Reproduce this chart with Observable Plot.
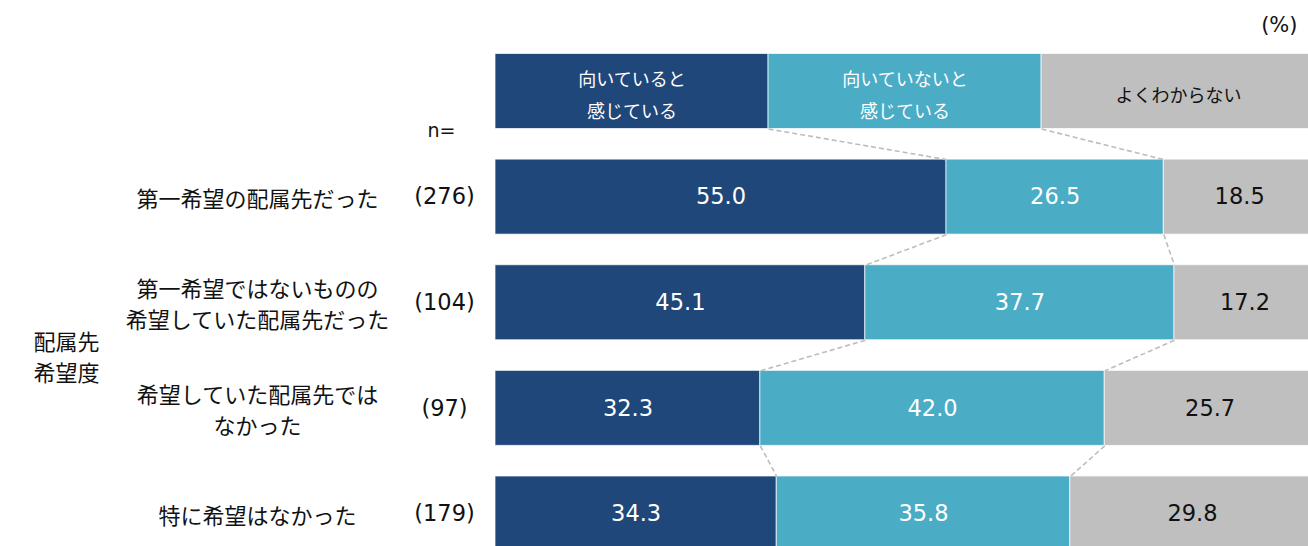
<!DOCTYPE html>
<html><head><meta charset="utf-8">
<script src="https://cdn.jsdelivr.net/npm/d3@7"></script>
<script src="https://cdn.jsdelivr.net/npm/@observablehq/plot@0.6"></script>
<style>html,body{margin:0;padding:0;overflow:hidden;background:#fff}</style>
</head><body><div id="chart"></div>
<script>
// ---- data ----
const categories = ["第一希望の配属先だった", "第一希望ではないものの\n希望していた配属先だった", "希望していた配属先では\nなかった", "特に希望はなかった"];
const sampleSizes = ["(276)", "(104)", "(97)", "(179)"];
const seriesNames = ["向いていると\n感じている", "向いていないと\n感じている", "よくわからない"];
const suited = [55.0, 45.1, 32.3, 34.3];
const notSuited = [26.5, 37.7, 42.0, 35.8];
const unsure = [18.5, 17.2, 25.7, 29.8];
const legendShares = [33.3, 33.3, 33.4];
const groupTitle = "配属先\n希望度";
const nLabel = "n=";
const unitLabel = "(%)";

// ---- styles ----
const colors = ["#1F477A", "#4BACC6", "#BFBFBF"];
const jp = "'Noto Sans CJK JP', sans-serif";
const num = "'DejaVu Sans', 'Noto Sans CJK JP', sans-serif";
const half = 0.355;

// ---- derived tables ----
const seriesValues = [suited, notSuited, unsure];
const segs = [];
categories.forEach((c, i) => {
  let acc = 0;
  seriesValues.forEach((vals, s) => {
    segs.push({row: i + 1, series: s, value: vals[i], x1: acc, x2: acc + vals[i]});
    acc += vals[i];
  });
});
const legendSegs = [];
{
  let acc = 0;
  seriesNames.forEach((name, s) => {
    legendSegs.push({row: 0, series: s, name, x1: acc, x2: acc + legendShares[s]});
    acc += legendShares[s];
  });
}
const allSegs = [...legendSegs, ...segs];
const rowsOf = [0, 1, 2, 3, 4];
const bounds = rowsOf.map(r => allSegs.filter(d => d.row === r && d.series < 2).map(d => d.x2));
const links = [];
for (let r = 0; r < bounds.length - 1; r++)
  for (let k = 0; k < 2; k++)
    links.push({x1: bounds[r][k], x2: bounds[r + 1][k], r1: r, r2: r + 1});
const catRows = categories.map((c, i) => ({row: i + 1, label: c, n: sampleSizes[i]}));

const chart = Plot.plot({
  width: 1308,
  height: 546,
  marginLeft: 0, marginRight: 0, marginTop: 0, marginBottom: 0,
  style: {fontFamily: jp, background: "white"},
  x: {domain: [0, 100], range: [495, 1315], axis: null},
  y: {type: "linear", domain: [0, 4], range: [91, 513.5], axis: null},
  color: {type: "ordinal", domain: [0, 1, 2], range: colors},
  marks: [
    Plot.rectX(allSegs, {x1: "x1", x2: "x2", y1: d => d.row - half, y2: d => d.row + half, fill: "series", stroke: "white", strokeOpacity: 0.7, strokeWidth: 1}),
    Plot.link(links, {x1: "x1", x2: "x2", y1: d => d.r1 + half, y2: d => d.r2 - half, stroke: "#BDBDBD", strokeWidth: 1.6, strokeDasharray: "5,3"}),
    Plot.text(segs, {filter: d => d.series < 2, x: d => (d.x1 + d.x2) / 2, y: "row", text: d => d.value.toFixed(1), fill: "white", fontSize: 22.5, fontFamily: num}),
    Plot.text(segs, {filter: d => d.series === 2, x: d => (d.x1 + d.x2) / 2, y: "row", text: d => d.value.toFixed(1), fill: "#111", fontSize: 22.5, fontFamily: num}),
    Plot.text(legendSegs, {filter: d => d.series < 2, x: d => (d.x1 + d.x2) / 2, y: "row", text: "name", fill: "white", fontSize: 18, lineHeight: 1.78}),
    Plot.text(legendSegs, {filter: d => d.series === 2, x: d => (d.x1 + d.x2) / 2, y: "row", text: "name", fill: "#111", fontSize: 18, lineHeight: 1.78}),
    Plot.text(catRows, {y: "row", text: "label", frameAnchor: "left", dx: 257, textAnchor: "middle", fill: "#111", fontSize: 22, lineHeight: 1.42}),
    Plot.text(catRows, {y: "row", text: "n", frameAnchor: "left", dx: 444, textAnchor: "middle", fill: "#111", fontSize: 22.5, fontFamily: num}),
    Plot.text([groupTitle], {y: d3.mean(catRows, d => d.row), text: d => d, frameAnchor: "left", dx: 66, textAnchor: "middle", fill: "#111", fontSize: 22, lineHeight: 1.42}),
    Plot.text([nLabel], {y: 0, text: d => d, frameAnchor: "left", dx: 441, dy: 39, textAnchor: "middle", fill: "#111", fontSize: 19, fontFamily: num}),
    Plot.text([unitLabel], {text: d => d, frameAnchor: "top-right", dx: -11, dy: 25, lineAnchor: "middle", textAnchor: "end", fill: "#111", fontSize: 21, fontFamily: num})
  ]
});
document.getElementById("chart").append(chart);
</script>
</body></html>
